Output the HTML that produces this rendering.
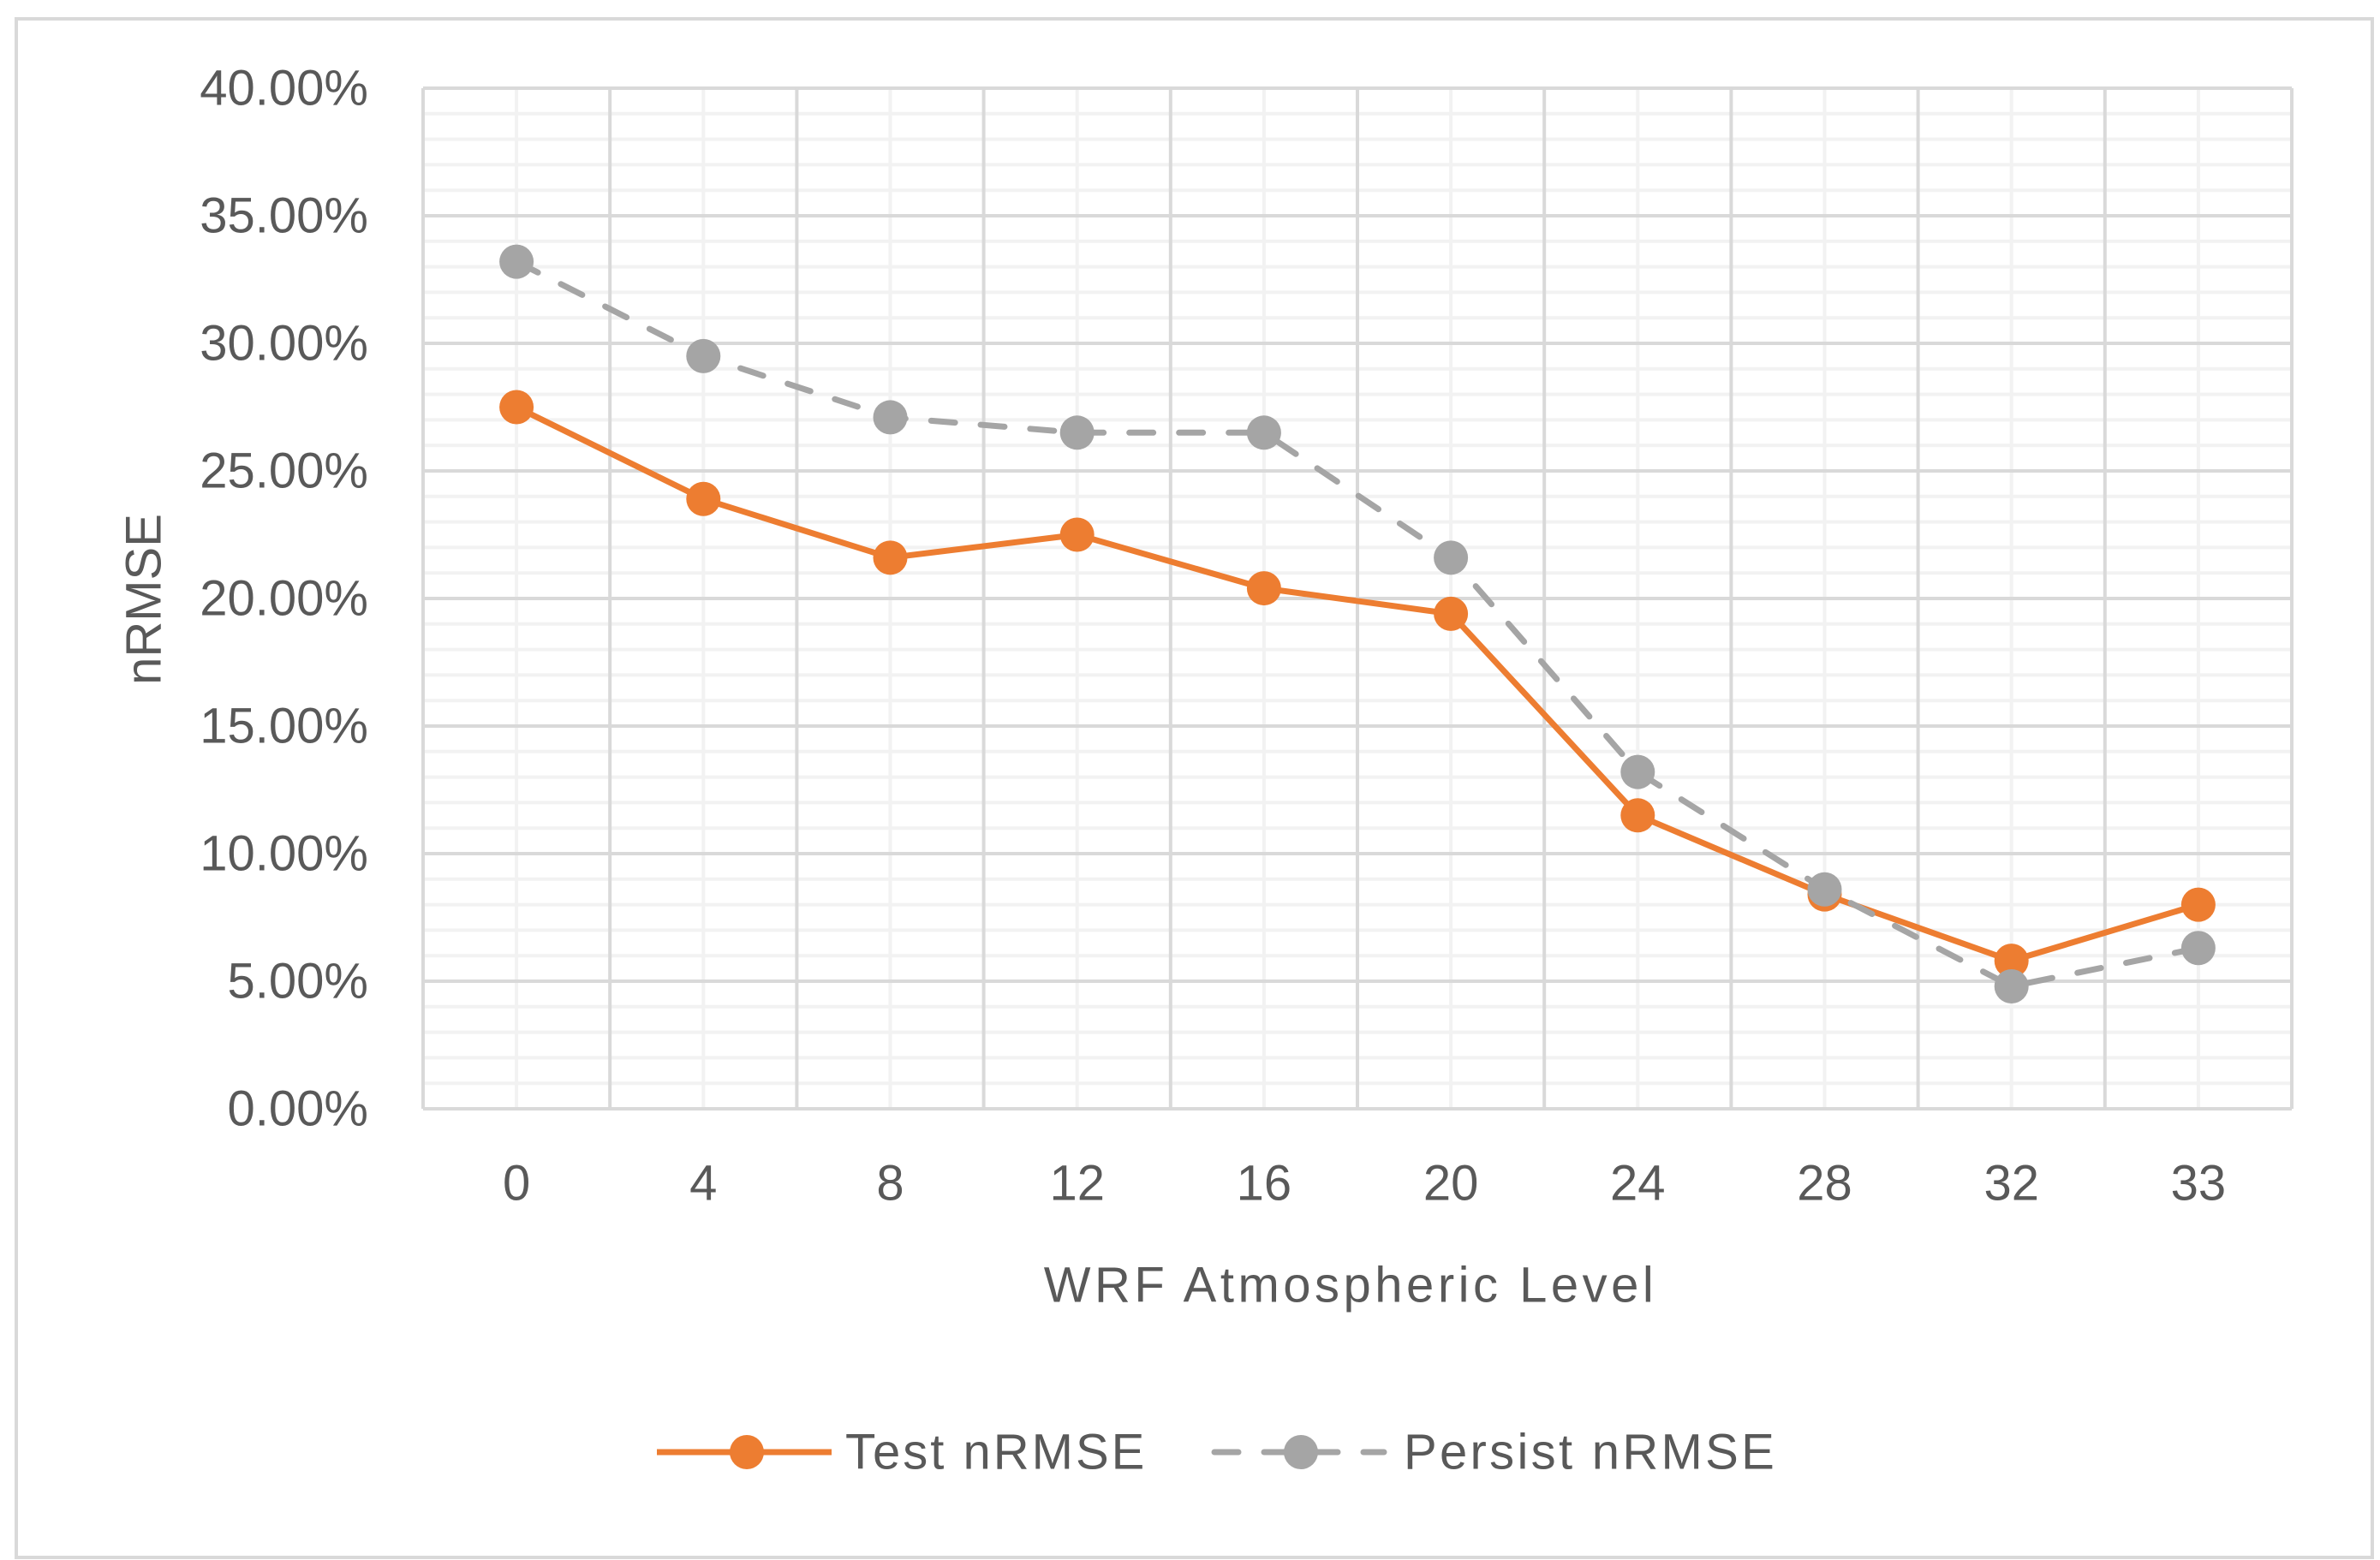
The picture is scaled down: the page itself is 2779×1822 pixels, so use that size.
<!DOCTYPE html>
<html><head><meta charset="utf-8"><style>
html,body{margin:0;padding:0;background:#fff;}
svg{display:block;font-family:"Liberation Sans",sans-serif;}
</style></head><body>
<svg id="chart" width="2779" height="1822" viewBox="0 0 2779 1822">
<rect x="19" y="22" width="2751" height="1797" fill="#fff" stroke="#d9d9d9" stroke-width="4"/>
<g id="grid"></g>
<g id="yticks"></g>
<g id="xticks"></g>
<g id="series"></g>
<text x="168" y="700" transform="rotate(-90 168 700)" text-anchor="middle" dominant-baseline="central" font-size="58" fill="#595959">nRMSE</text>
<text x="1577" y="1501" text-anchor="middle" dominant-baseline="central" font-size="58" letter-spacing="4.5" fill="#595959">WRF Atmospheric Level</text>
<g>
<g>
<line x1="767" y1="1696" x2="971" y2="1696" stroke="#ed7d31" stroke-width="7"/>
<circle cx="872" cy="1696" r="20" fill="#ed7d31"/>
<text x="987" y="1696" dominant-baseline="central" font-size="58" letter-spacing="3" fill="#595959">Test nRMSE</text>
</g>
<g>
<line x1="1418" y1="1696" x2="1616" y2="1696" stroke="#a5a5a5" stroke-width="7" stroke-dasharray="28,30" stroke-linecap="round"/>
<circle cx="1519" cy="1696" r="20" fill="#a5a5a5"/>
<text x="1639" y="1696" dominant-baseline="central" font-size="58" letter-spacing="3.3" fill="#595959">Persist nRMSE</text>
</g>
</g>
</svg>
<script>
const categories = ["0","4","8","12","16","20","24","28","32","33"];
const testValues = [27.5, 23.9, 21.6, 22.5, 20.4, 19.4, 11.5, 8.4, 5.8, 8.0];
const persistValues = [33.2, 29.5, 27.1, 26.5, 26.5, 21.6, 13.2, 8.6, 4.8, 6.3];
const yTickValues = [0, 5, 10, 15, 20, 25, 30, 35, 40];
const yTickLabels = ["0.00%","5.00%","10.00%","15.00%","20.00%","25.00%","30.00%","35.00%","40.00%"];

const NS = "http://www.w3.org/2000/svg";
const L = 494, R = 2676, T = 103, B = 1295, YMAX = 40;
const bw = (R - L) / categories.length;
function xPos(i){ return L + bw * (i + 0.5); }
function yPos(v){ return B - (v / YMAX) * (B - T); }
function mk(tag, attrs, parent){
  const e = document.createElementNS(NS, tag);
  for (const k in attrs) e.setAttribute(k, attrs[k]);
  parent.appendChild(e);
  return e;
}
const grid = document.getElementById('grid');
for (let v = 0; v <= YMAX; v += 1) {
  if (v % 5 === 0) continue;
  const ln = mk('line', {x1:L, x2:R, y1:yPos(v), y2:yPos(v), stroke:'#f2f2f2', 'stroke-width':4}, grid);
  
  
}
categories.forEach((c, i) => {
  const ln = mk('line', {x1:xPos(i), x2:xPos(i), y1:T, y2:B, stroke:'#f2f2f2', 'stroke-width':4}, grid);
  
  
});
yTickValues.forEach(v => {
  const ln = mk('line', {x1:L, x2:R, y1:yPos(v), y2:yPos(v), stroke:'#d9d9d9', 'stroke-width':4}, grid);
  
  
});
for (let i = 0; i <= categories.length; i++) {
  const x = L + bw * i;
  const ln = mk('line', {x1:x, x2:x, y1:T, y2:B, stroke:'#d9d9d9', 'stroke-width':4}, grid);
  
  
}
const yt = document.getElementById('yticks');
yTickValues.forEach((v, i) => {
  const t = mk('text', {x:430, y:yPos(v), 'text-anchor':'end', 'dominant-baseline':'central', 'font-size':58, fill:'#595959'}, yt);
  t.textContent = yTickLabels[i];
  
  
});
const xt = document.getElementById('xticks');
categories.forEach((c, i) => {
  const t = mk('text', {x:xPos(i), y:1382, 'text-anchor':'middle', 'dominant-baseline':'central', 'font-size':58, fill:'#595959'}, xt);
  t.textContent = c;
  
  
});
const sg = document.getElementById('series');
function drawSeries(vals, color, dashed, name){
  const g = mk('g', {}, sg);
  
  
  const pts = vals.map((v, i) => xPos(i) + ',' + yPos(v)).join(' ');
  const pl = mk('polyline', {points:pts, fill:'none', stroke:color, 'stroke-width':7, 'stroke-linejoin':'round', 'stroke-linecap':'round'}, g);
  if (dashed) pl.setAttribute('stroke-dasharray', '28,30');
  
  
  vals.forEach((v, i) => {
    const c = mk('circle', {cx:xPos(i), cy:yPos(v), r:20, fill:color}, g);
    
    
  });
}
drawSeries(testValues, '#ed7d31', false, 'test-nrmse-series');
drawSeries(persistValues, '#a5a5a5', true, 'persist-nrmse-series');
</script>
</body></html>
